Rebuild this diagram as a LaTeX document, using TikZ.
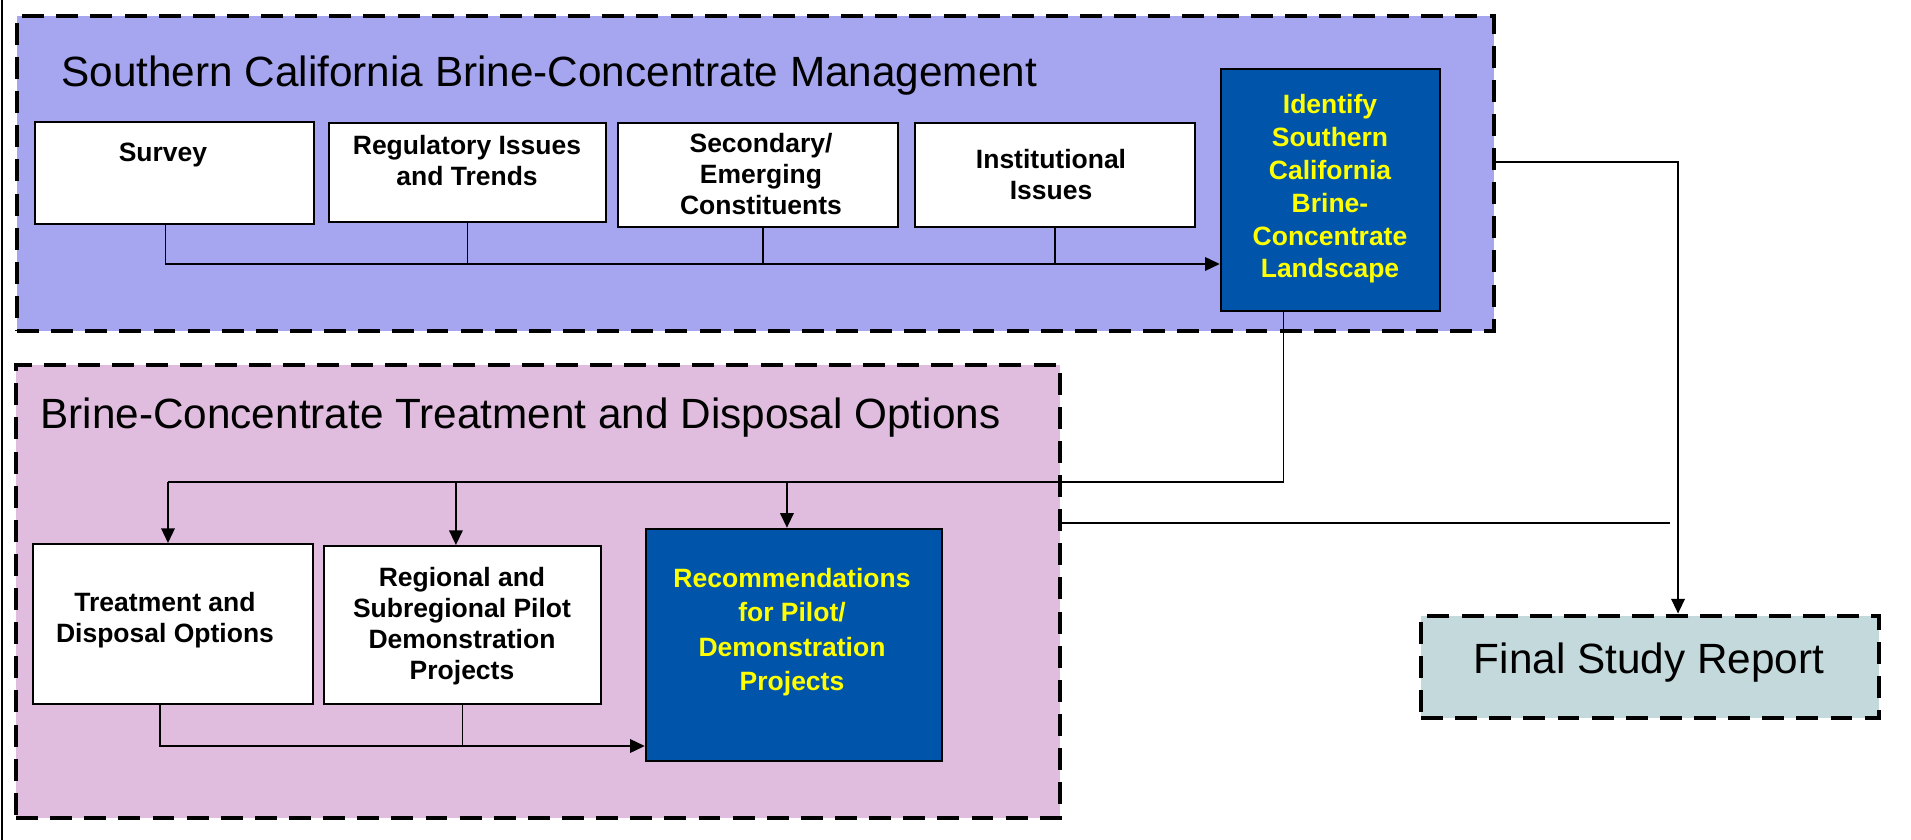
\documentclass[tikz,border=0pt]{standalone}
\usepackage{fontspec}
\setmainfont{Liberation Sans}
\usetikzlibrary{arrows.meta,fit}
\definecolor{lav}{RGB}{166,166,240}
\definecolor{pinkbg}{RGB}{224,188,222}
\definecolor{navy}{RGB}{0,85,170}
\definecolor{reportbg}{RGB}{196,217,220}
\definecolor{yel}{RGB}{255,255,0}
\begin{document}
\begin{tikzpicture}[x=0.41026pt,y=-0.41026pt,
  dbox/.style={draw=black,line width=2pt,dash pattern=on 9pt off 5pt,inner sep=0pt},
  wbox/.style={draw=black,fill=white,line width=0.8pt,inner sep=0pt},
  bbox/.style={draw=black,fill=navy,line width=1pt,inner sep=0pt},
  ttl/.style={font=\fontsize{17.35}{20}\selectfont,inner sep=0pt},
  btxt/.style={font=\bfseries\fontsize{10.87}{12.7}\selectfont,align=center,inner sep=0pt},
  ytxt/.style={btxt,text=yel},
  conn/.style={draw=black,line width=0.8pt},
  arr/.style={conn,-{Triangle[length=6pt,width=5.5pt]}},
]
\useasboundingbox (0,0) rectangle (1911,840);
% left frame line
\draw[line width=1.2pt] (2,0) -- (2,840);

% ---- top group
\node[dbox,fill=lav,fit={(17,16)(1494,331)}] (topbox) {};
\node[ttl,anchor=west] (ttop) at (61,76) {Southern California Brine-Concentrate Management};
\node[wbox,fit={(35,122)(314,224)}] (survey) {};
\node[wbox,fit={(329,123)(606,222)}] (regul) {};
\node[wbox,fit={(618,123)(898,227)}] (second) {};
\node[wbox,fit={(915,123)(1195,227)}] (instit) {};
\node[bbox,fit={(1221,69)(1440,311)}] (ident) {};
\node[btxt] (tsurvey) at (163,155) {Survey};
\node[btxt] (tregul) at (467,161) {Regulatory Issues\\and Trends};
\node[btxt] (tsecond) at (761,174) {Secondary/\\Emerging\\Constituents};
\node[btxt] (tinstit) at (1051,175) {Institutional\\Issues};
\node[ytxt,font=\bfseries\fontsize{10.87}{13.46}\selectfont] (tident) at (1330,189) {Identify\\Southern\\California\\Brine-\\Concentrate\\Landscape};

% ---- bottom group
\node[dbox,fill=pinkbg,fit={(16,365)(1060,818)}] (botbox) {};
\node[ttl,anchor=west] (tbot) at (40,418) {Brine-Concentrate Treatment and Disposal Options};
\node[wbox,fit={(33,544)(313,704)}] (treat) {};
\node[wbox,fit={(324,546)(601,704)}] (region) {};
\node[bbox,fit={(646,529)(942,761)}] (recom) {};
\node[btxt] (ttreat) at (165,620) {Treatment and\\Disposal Options};
\node[btxt] (tregion) at (462,626) {Regional and\\Subregional Pilot\\Demonstration\\Projects};
\node[ytxt,font=\bfseries\fontsize{10.87}{14.07}\selectfont] (trecom) at (792,632) {Recommendations\\for Pilot/\\Demonstration\\Projects};

% ---- final report
\node[dbox,fill=reportbg,fit={(1421,616)(1879,718)}] (final) {};
\node[ttl] (tfinal) at (1649,663) {Final Study Report};

% ---- connectors
\coordinate (busT) at (0,264);
\draw[arr] ([xshift=-3.7pt]survey.south) |- (ident.west |- busT);
\draw[conn] (regul.south) -- (regul.south |- busT);
\coordinate (sn) at ([xshift=2pt]second.south);
\draw[conn] (sn) -- (sn |- busT);
\draw[conn] (instit.south) -- (instit.south |- busT);

\coordinate (busR) at (0,162);
\coordinate (fn) at ([xshift=11.5pt]final.north);
\draw[arr] (topbox.east |- busR) -| (fn);

\coordinate (busB) at (168,482);
\coordinate (idn) at ([xshift=-19.3pt]ident.south);
\draw[conn] (idn) |- (busB);
\draw[arr] (busB) -- (treat.north -| busB);
\coordinate (rn) at ([xshift=-2.7pt]region.north);
\draw[arr] (rn |- busB) -- (rn);
\coordinate (cn) at ([xshift=-2.9pt]recom.north);
\draw[arr] (cn |- busB) -- (cn);

\coordinate (busC) at (0,746);
\coordinate (ts) at ([xshift=-5.3pt]treat.south);
\draw[arr] (ts) |- (recom.west |- busC);
\draw[conn] (region.south) -- (region.south |- busC);

\coordinate (tapEnd) at (1670,523);
\draw[conn] (botbox.east |- tapEnd) -- (tapEnd);
\end{tikzpicture}
\end{document}
